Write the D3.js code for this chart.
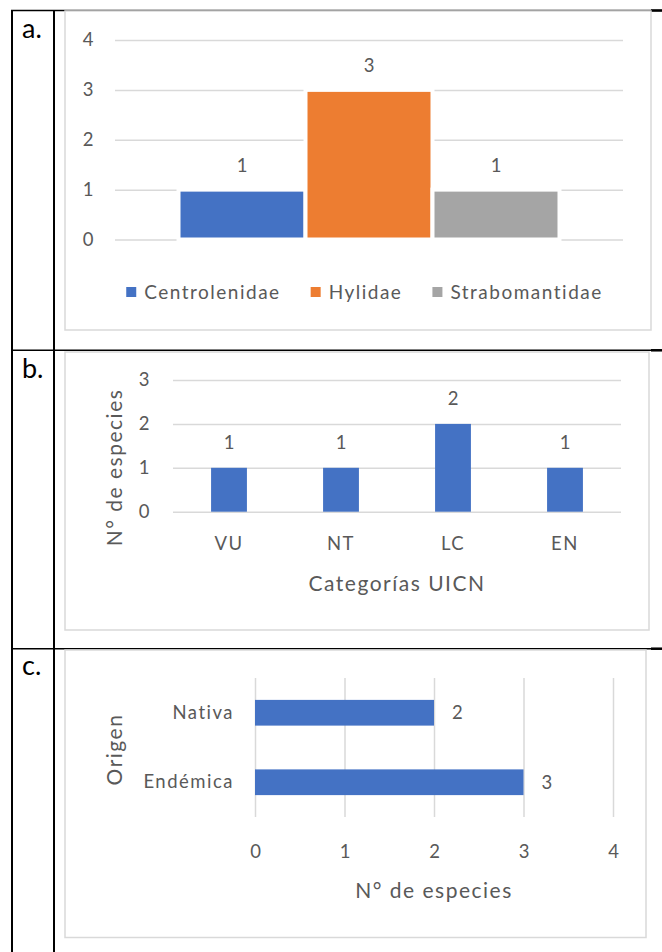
<!DOCTYPE html>
<html>
<head>
<meta charset="utf-8">
<script src="https://cdn.jsdelivr.net/npm/d3@7"></script>
<style>
  html, body { margin: 0; padding: 0; background: #fff; }
  svg { display: block; }
  text { font-family: Lato, "Open Sans", sans-serif; }
  .sp { letter-spacing: 1.5px; }
</style>
</head>
<body>
<svg id="chart" width="662" height="952"></svg>
<script>
// ---- data ----
const panelLabels = ["a.", "b.", "c."];

const famCategories = ["Centrolenidae", "Hylidae", "Strabomantidae"];
const famValues = [1, 3, 1];
const famColors = ["#4472C4", "#ED7D31", "#A5A5A5"];
const famTicks = [0, 1, 2, 3, 4];

const uicnCategories = ["VU", "NT", "LC", "EN"];
const uicnValues = [1, 1, 2, 1];
const uicnTicks = [0, 1, 2, 3];
const uicnXTitle = "Categorías UICN";
const uicnYTitle = "N° de especies";

const origenCategories = ["Nativa", "Endémica"];
const origenValues = [2, 3];
const origenTicks = [0, 1, 2, 3, 4];
const origenXTitle = "N° de especies";
const origenYTitle = "Origen";

// ---- styles ----
const TEXT = "#595959", GRID = "#D9D9D9", BLUE = "#4472C4";
const FS = 18.5, TFS = 21;
const svg = d3.select("#chart");

// ---- table frame ----
const rowLines = [10.5, 350.3, 648.7];
svg.selectAll("line.row").data(rowLines).join("line")
  .attr("x1", 11).attr("x2", 662).attr("y1", d => d).attr("y2", d => d)
  .attr("stroke", "#000").attr("stroke-width", 1.5);
svg.selectAll("line.rowend").data(rowLines).join("line")
  .attr("x1", 651).attr("x2", 662).attr("y1", d => d).attr("y2", d => d)
  .attr("stroke", "#000").attr("stroke-width", 2.5);
[12, 54].forEach(x => svg.append("line").attr("x1", x).attr("x2", x)
  .attr("y1", 10).attr("y2", 952).attr("stroke", "#000").attr("stroke-width", 2));

// panel labels
const labelY = [38, 377.7, 675];
svg.selectAll("text.plabel").data(panelLabels).join("text")
  .attr("x", 22).attr("y", (d, i) => labelY[i])
  .attr("font-size", 27).attr("fill", "#000").text(d => d);

// chart frames
const frames = [[65, 11, 651, 330], [65, 352, 649, 630], [65, 650, 646, 937.5]];
frames.forEach(f => svg.append("rect").attr("x", f[0]).attr("y", f[1])
  .attr("width", f[2] - f[0]).attr("height", f[3] - f[1])
  .attr("fill", "#fff").attr("stroke", GRID).attr("stroke-width", 1.5));

// ===== Chart a =====
(function () {
  const x0 = 115, x1 = 623;
  const y = d3.scaleLinear().domain([0, 4]).range([239.5, 40]);
  const g = svg.append("g");
  const ax = g.append("g").attr("transform", `translate(${x0},0)`)
    .call(d3.axisLeft(y).tickValues(famTicks).tickSize(-(x1 - x0)).tickPadding(0).tickFormat(d3.format("d")));
  ax.select(".domain").remove();
  ax.selectAll("line").attr("stroke", GRID).attr("stroke-width", 1.5);
  ax.selectAll("text").attr("x", -27).attr("text-anchor", "middle")
    .attr("font-size", FS).attr("fill", TEXT).attr("font-family", "Lato");

  const xg = d3.scaleBand().domain(["grupo"]).range([x0, x1]).paddingInner(0).paddingOuter(0.1667);
  const xs = d3.scaleBand().domain(famCategories).range([xg("grupo"), xg("grupo") + xg.bandwidth()]);
  g.selectAll("rect.bar").data(famCategories).join("rect")
    .attr("x", d => xs(d)).attr("width", xs.bandwidth())
    .attr("y", (d, i) => y(famValues[i])).attr("height", (d, i) => y(0) - y(famValues[i]))
    .attr("fill", (d, i) => famColors[i]).attr("stroke", "#fff").attr("stroke-width", 4);
  g.selectAll("text.val").data(famCategories).join("text")
    .attr("x", d => xs(d) + xs.bandwidth() / 2).attr("y", (d, i) => y(famValues[i]) - 18)
    .attr("text-anchor", "middle").attr("font-size", FS).attr("fill", TEXT)
    .text((d, i) => famValues[i]);

  // legend
  const lg = g.append("g");
  let cx = 0;
  famCategories.forEach((c, i) => {
    lg.append("rect").attr("x", cx).attr("y", -5).attr("width", 10).attr("height", 10).attr("fill", famColors[i]);
    const t = lg.append("text").attr("class", "sp").attr("x", cx + 18).attr("y", 0).attr("dy", "0.35em")
      .attr("font-size", 19).attr("fill", TEXT).text(c);
    cx += 18 + t.node().getComputedTextLength() + 30;
  });
  const lw = cx - 30;
  lg.attr("transform", `translate(${364.5 - lw / 2},292)`);
})();

// ===== Chart b =====
(function () {
  const x0 = 173, x1 = 621;
  const y = d3.scaleLinear().domain([0, 3]).range([511.7, 380]);
  const x = d3.scaleBand().domain(uicnCategories).range([x0, x1]).paddingInner(0.68).paddingOuter(0.34);
  const g = svg.append("g");
  const ax = g.append("g").attr("transform", `translate(${x0},0)`)
    .call(d3.axisLeft(y).tickValues(uicnTicks).tickSize(-(x1 - x0)).tickPadding(0).tickFormat(d3.format("d")));
  ax.select(".domain").remove();
  ax.selectAll("line").attr("stroke", GRID).attr("stroke-width", 1.5);
  ax.selectAll("text").attr("x", -29).attr("text-anchor", "middle")
    .attr("font-size", FS).attr("fill", TEXT).attr("font-family", "Lato");

  g.selectAll("rect.bar").data(uicnCategories).join("rect")
    .attr("x", d => x(d)).attr("width", x.bandwidth())
    .attr("y", (d, i) => y(uicnValues[i])).attr("height", (d, i) => y(0) - y(uicnValues[i]))
    .attr("fill", BLUE);
  g.selectAll("text.val").data(uicnCategories).join("text")
    .attr("x", d => x(d) + x.bandwidth() / 2).attr("y", (d, i) => y(uicnValues[i]) - 18.5)
    .attr("text-anchor", "middle").attr("font-size", FS).attr("fill", TEXT)
    .text((d, i) => uicnValues[i]);

  const bx = g.append("g").attr("transform", `translate(0,${y(0)})`)
    .call(d3.axisBottom(x).tickSize(0).tickPadding(0));
  bx.select(".domain").remove();
  bx.selectAll("text").attr("class", "sp").attr("y", 38).attr("dy", 0)
    .attr("font-size", FS).attr("fill", TEXT).attr("font-family", "Lato");

  g.append("text").attr("class", "sp").attr("x", (x0 + x1) / 2).attr("y", 590.7).attr("text-anchor", "middle")
    .attr("font-size", TFS).attr("fill", TEXT).text(uicnXTitle);
  g.append("text").attr("class", "sp").attr("transform", "translate(115,467.5) rotate(-90)").attr("dy", "0.35em")
    .attr("text-anchor", "middle").attr("font-size", TFS).attr("fill", TEXT).text(uicnYTitle);
})();

// ===== Chart c =====
(function () {
  const y0 = 678, y1 = 817;
  const x = d3.scaleLinear().domain([0, 4]).range([255, 613]);
  const y = d3.scaleBand().domain(origenCategories).range([y0, y1]).paddingInner(0.63).paddingOuter(0.315);
  const g = svg.append("g");
  const ax = g.append("g").attr("transform", `translate(0,${y1})`)
    .call(d3.axisBottom(x).tickValues(origenTicks).tickSize(-(y1 - y0)).tickPadding(0).tickFormat(d3.format("d")));
  ax.select(".domain").remove();
  ax.selectAll("line").attr("stroke", GRID).attr("stroke-width", 1.5);
  ax.selectAll("text").attr("y", 41).attr("dy", 0)
    .attr("font-size", FS).attr("fill", TEXT).attr("font-family", "Lato");

  g.selectAll("rect.bar").data(origenCategories).join("rect")
    .attr("y", d => y(d)).attr("height", y.bandwidth())
    .attr("x", x(0)).attr("width", (d, i) => x(origenValues[i]) - x(0))
    .attr("fill", BLUE);
  g.selectAll("text.val").data(origenCategories).join("text")
    .attr("y", d => y(d) + y.bandwidth() / 2).attr("dy", "0.35em")
    .attr("x", (d, i) => x(origenValues[i]) + 18)
    .attr("font-size", FS).attr("fill", TEXT)
    .text((d, i) => origenValues[i]);

  const ly = g.append("g").attr("transform", `translate(${x(0)},0)`)
    .call(d3.axisLeft(y).tickSize(0).tickPadding(21));
  ly.select(".domain").remove();
  ly.selectAll("text").attr("class", "sp").attr("font-size", FS).attr("fill", TEXT).attr("font-family", "Lato");

  g.append("text").attr("class", "sp").attr("x", (x(0) + x(4)) / 2).attr("y", 898).attr("text-anchor", "middle")
    .attr("font-size", TFS).attr("fill", TEXT).text(origenXTitle);
  g.append("text").attr("class", "sp").attr("transform", `translate(115,${(y0 + y1) / 2 + 2}) rotate(-90)`).attr("dy", "0.35em")
    .attr("text-anchor", "middle").attr("font-size", TFS).attr("fill", TEXT).text(origenYTitle);
})();
</script>
</body>
</html>
